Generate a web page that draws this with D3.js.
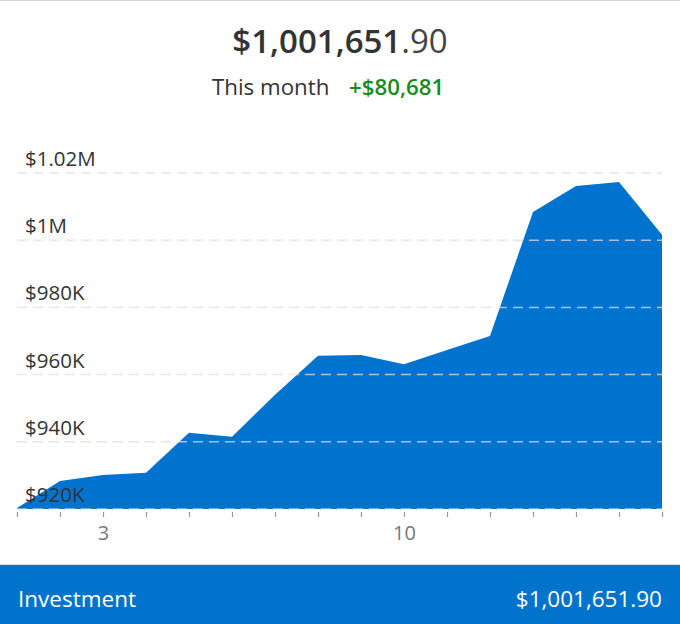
<!DOCTYPE html>
<html><head><meta charset="utf-8">
<script src="https://cdn.jsdelivr.net/npm/d3@7"></script>
<style>
html,body{margin:0;padding:0;background:#fff;}
svg{display:block;font-family:"Open Sans",sans-serif;}
</style></head>
<body>
<svg id="chart" width="680" height="624"></svg>
<script>
const days = [1,2,3,4,5,6,7,8,9,10,11,12,13,14,15,16];
const values = [920300,928300,930100,930800,942700,941500,954000,965600,965800,963100,967300,971500,1008400,1016100,1017300,1001651.90];
const yTicks = [920000,940000,960000,980000,1000000,1020000];
const yTickLabels = ["$920K","$940K","$960K","$980K","$1M","$1.02M"];
const xLabelDays = [3,10];
const totalMain = "$1,001,651";
const totalCents = ".90";
const monthLabel = "This month";
const monthChange = "+$80,681";
const footLabel = "Investment";
const footValue = "$1,001,651.90";

const svg = d3.select("#chart");
const x = d3.scaleLinear().domain([1,16]).range([17,662]);
const y = d3.scaleLinear().domain([920000,1020000]).range([509,173]);

svg.append("line").attr("x1",0).attr("x2",680).attr("y1",0.5).attr("y2",0.5).attr("stroke","#d8d8d8").attr("stroke-width",1);

const t = svg.append("text").attr("x",340).attr("y",53).attr("text-anchor","middle")
  .attr("font-size",33).attr("fill","#333");
t.append("tspan").attr("font-weight",600).text(totalMain);
t.append("tspan").attr("font-weight",400).attr("fill","#444").text(totalCents);

svg.append("text").attr("x",212).attr("y",95).attr("font-size",22.3).attr("fill","#333").text(monthLabel);
svg.append("text").attr("x",349).attr("y",95).attr("font-size",22.3).attr("fill","#1a8a1a").attr("font-weight",600).text(monthChange);

const area = d3.area().x((d,i)=>x(days[i])).y0(y(920000)).y1(d=>y(d));
svg.append("path").datum(values).attr("d",area).attr("fill","#0073CF");

svg.append("g").selectAll("line").data(yTicks).join("line")
  .attr("x1",17).attr("x2",662).attr("y1",d=>y(d)).attr("y2",d=>y(d))
  .attr("stroke","rgba(222,222,222,0.75)").attr("stroke-width",1.5).attr("stroke-dasharray","10,6");

svg.append("g").selectAll("text").data(yTicks).join("text")
  .attr("x",25).attr("y",d=>y(d)-7).attr("font-size",20.5).attr("fill","#333")
  .text((d,i)=>yTickLabels[i]);

const xa = d3.axisBottom(x).tickValues(days).tickSize(5).tickFormat(d=>xLabelDays.includes(d)?String(d):"");
const gx = svg.append("g").attr("transform","translate(0,512)").call(xa);
gx.select(".domain").remove();
gx.selectAll(".tick line").attr("stroke","#999").attr("stroke-width",1.2);
gx.selectAll(".tick text").attr("font-size",20).attr("fill","#777").attr("font-family","'Open Sans',sans-serif").attr("dy","1.1em").attr("y",6);

svg.append("rect").attr("x",0).attr("y",565).attr("width",680).attr("height",59).attr("fill","#0074CC");
svg.append("line").attr("x1",0).attr("x2",680).attr("y1",564.5).attr("y2",564.5).attr("stroke","#cfe0f0");
svg.append("text").attr("x",18).attr("y",607).attr("font-size",22.5).attr("fill","#fff").text(footLabel);
svg.append("text").attr("x",662).attr("y",607).attr("text-anchor","end").attr("font-size",22.5).attr("fill","#fff").text(footValue);
</script>
</body></html>
